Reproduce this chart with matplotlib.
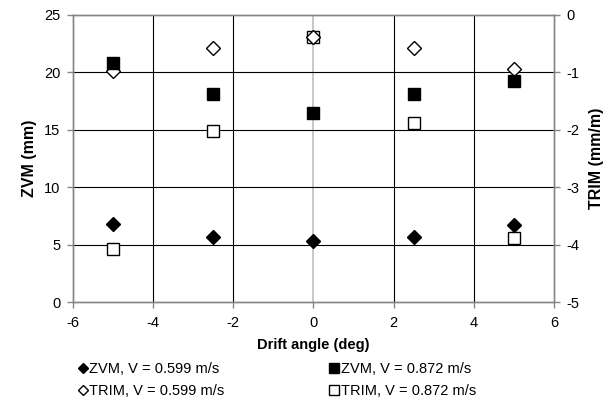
import matplotlib
matplotlib.use("Agg")
import matplotlib.pyplot as plt
from matplotlib.lines import Line2D

plt.rcParams['font.family'] = ['Liberation Sans', 'DejaVu Sans']
plt.rcParams['axes.unicode_minus'] = False

drift = [-5, -2.5, 0, 2.5, 5]
zvm_0599 = [6.77, 5.66, 5.34, 5.66, 6.68]
zvm_0872 = [20.8, 18.1, 16.45, 18.1, 19.25]
trim_0599 = [-0.97, -0.57, -0.38, -0.57, -0.94]
trim_0872 = [-4.08, -2.02, -0.38, -1.88, -3.89]

x_ticks = [-6, -4, -2, 0, 2, 4, 6]
zvm_ticks = [0, 5, 10, 15, 20, 25]
trim_ticks = [-5, -4, -3, -2, -1, 0]

fs = 10.5

fig = plt.figure(figsize=(6.15, 4.03), dpi=100)
ax = fig.add_axes([0.1187, 0.2506, 0.7821, 0.7122])
ax2 = ax.twinx()
ax.set_zorder(ax2.get_zorder() + 1)
ax.patch.set_visible(False)

spine_c = '#868686'
for a in (ax, ax2):
    for s in a.spines.values():
        s.set_color(spine_c)
        s.set_linewidth(1.0)
    a.set_xlim(-6, 6)
    a.set_xticks(x_ticks)

ax.set_ylim(0, 25)
ax.set_yticks(zvm_ticks)
ax2.set_ylim(-5, 0)
ax2.set_yticks(trim_ticks)

# grid drawn on back axis
for xv in x_ticks[1:-1]:
    if xv == 0:
        ax2.axvline(xv, color='#bfbfbf', lw=1.2, zorder=1)
    else:
        ax2.axvline(xv, color='black', lw=0.8, zorder=1)
for yv in trim_ticks[1:-1]:
    ax2.axhline(yv, color='black', lw=0.8, zorder=1)

ax2.plot(drift, trim_0599, linestyle='none', marker='D', ms=7, mfc='white', mec='black', mew=1.0, zorder=3)
ax2.plot(drift, trim_0872, linestyle='none', marker='s', ms=9, mfc='white', mec='black', mew=1.0, zorder=2)
ax.plot(drift, zvm_0599, linestyle='none', marker='D', ms=7.5, mfc='black', mec='black', zorder=3)
ax.plot(drift, zvm_0872, linestyle='none', marker='s', ms=9, mfc='black', mec='black', zorder=3)

for a in (ax, ax2):
    a.tick_params(direction='out', length=4, width=1, color=spine_c, labelsize=fs, labelcolor='black')
ax.tick_params(axis='x', pad=6)
ax.tick_params(axis='y', pad=5)
ax2.tick_params(axis='y', pad=5)

ax.set_xlabel('Drift angle (deg)', fontsize=fs, fontweight='bold', labelpad=6)
ax.set_ylabel('ZVM (mm)', fontsize=11.5, fontweight='bold', labelpad=5)
ax2.set_ylabel('TRIM (mm/m)', fontsize=11.5, fontweight='bold', labelpad=7)

handles = [
    Line2D([], [], linestyle='none', marker='D', ms=5, mfc='black', mec='black'),
    Line2D([], [], linestyle='none', marker='D', ms=5, mfc='white', mec='black'),
    Line2D([], [], linestyle='none', marker='s', ms=7, mfc='black', mec='black'),
    Line2D([], [], linestyle='none', marker='s', ms=7, mfc='white', mec='black'),
]
labels = ['ZVM, V = 0.599 m/s', 'TRIM, V = 0.599 m/s',
          'ZVM, V = 0.872 m/s', 'TRIM, V = 0.872 m/s']
fig.legend(handles, labels, loc='lower left', bbox_to_anchor=(0.118, -0.002), ncol=2,
           frameon=False, fontsize=fs, handlelength=0.6, handletextpad=0.15,
           columnspacing=7.2, labelspacing=0.55, borderaxespad=0)

fig.savefig('out.png', dpi=100)
